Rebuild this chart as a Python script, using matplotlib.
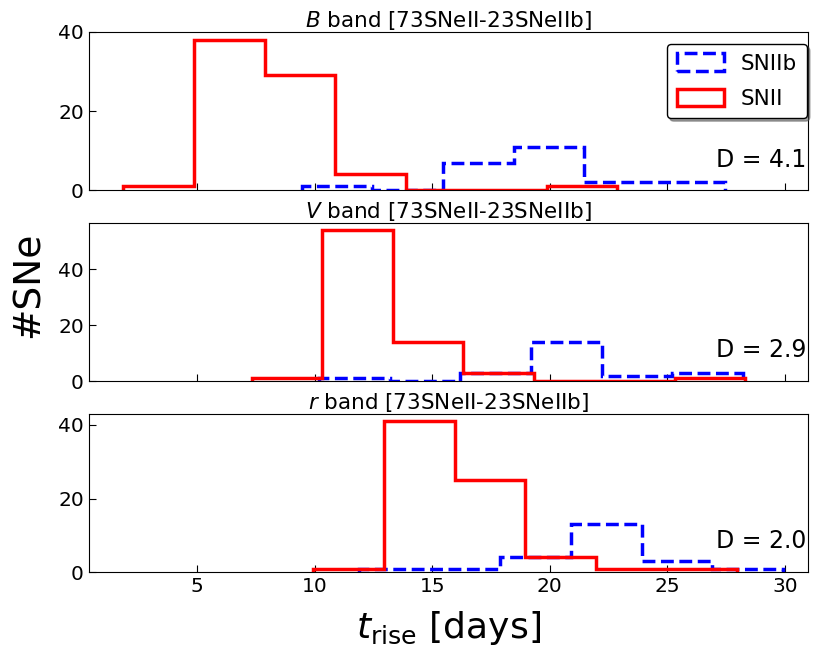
import matplotlib
matplotlib.use("Agg")
import matplotlib.pyplot as plt
import numpy as np

# histogram bin edges (days) and counts
bands = ["B", "V", "r"]
d_values = ["4.1", "2.9", "2.0"]

snii_edges = {
    "B": [1.85, 4.87, 7.87, 10.87, 13.87, 16.87, 19.87, 22.87],
    "V": [7.32, 10.32, 13.32, 16.32, 19.32, 22.32, 25.32, 28.32],
    "r": [9.95, 12.95, 15.95, 18.95, 21.95, 24.95, 27.95],
}
snii_counts = {
    "B": [1, 38, 29, 4, 0, 0, 1],
    "V": [1, 54, 14, 3, 0, 0, 1],
    "r": [1, 41, 25, 4, 1, 1],
}
sniib_edges = {
    "B": [9.46, 12.46, 15.46, 18.46, 21.46, 24.46, 27.46],
    "V": [10.2, 13.2, 16.2, 19.2, 22.2, 25.2, 28.2],
    "r": [11.9, 14.9, 17.9, 20.9, 23.9, 26.9, 29.9],
}
sniib_counts = {
    "B": [1, 0, 7, 11, 2, 2],
    "V": [1, 0, 3, 14, 2, 3],
    "r": [1, 1, 4, 13, 3, 1],
}

fig, axes = plt.subplots(3, 1, figsize=(8.15, 6.48), dpi=100, sharex=True)
fig.subplots_adjust(left=0.109, right=0.992, top=0.951, bottom=0.117, hspace=0.204)

for ax, band, dval in zip(axes, bands, d_values):
    e2b = np.array(sniib_edges[band])
    ax.hist(e2b[:-1], bins=e2b, weights=sniib_counts[band], histtype="step",
            color="b", ls="--", lw=2.5, label="SNIIb")
    e2 = np.array(snii_edges[band])
    ax.hist(e2[:-1], bins=e2, weights=snii_counts[band], histtype="step",
            color="r", lw=2.5, label="SNII")
    ax.set_title("$%s$ band [73SNeII-23SNeIIb]" % band, fontsize=15.5, pad=3)
    ax.text(0.997, 0.15, "D = " + dval, transform=ax.transAxes,
            ha="right", va="baseline", fontsize=17)
    ax.set_yticks([0, 20, 40])
    ax.tick_params(axis="both", direction="in", labelsize=14.5, length=5)

axes[0].legend(loc="upper right", bbox_to_anchor=(0.998, 0.924), borderaxespad=0,
               fontsize=15.5, fancybox=True, shadow=True, edgecolor="black",
               framealpha=1, handlelength=2.2, handleheight=0.85,
               labelspacing=0.7, borderpad=0.45)
axes[0].set_xlim(0.4, 31.0)
axes[0].set_xticks([5, 10, 15, 20, 25, 30])

axes[2].set_xlabel(r"$t_{\rm rise}$ [days]", fontsize=26, labelpad=9)
fig.text(0.035, 0.56, "#SNe", rotation=90, fontsize=27, ha="center", va="center")

fig.savefig("out.png", dpi=100)
